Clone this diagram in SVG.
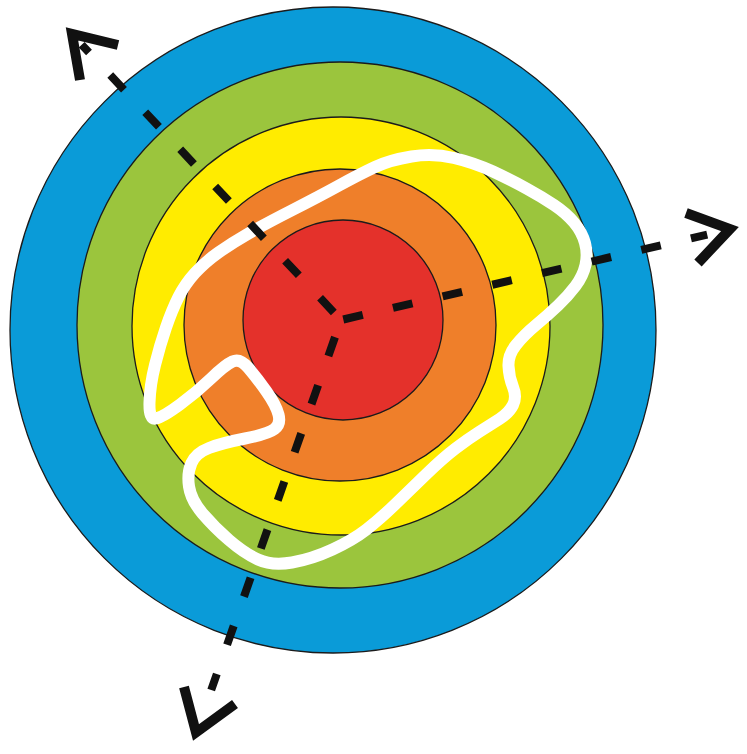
<svg xmlns="http://www.w3.org/2000/svg" width="747" height="754" viewBox="0 0 747 754">
<style>
.ring{stroke:#1b1b1b;stroke-width:1.3}
.ray{fill:none;stroke:#111;stroke-width:8;stroke-dasharray:20 31;stroke-linecap:butt}
.head{fill:none;stroke:#111;stroke-width:10;stroke-linejoin:miter;stroke-miterlimit:10;stroke-linecap:butt}
.outline{fill:none;stroke:#fff;stroke-width:12;stroke-linejoin:round}
</style>
<rect width="747" height="754" fill="#fff"/>
<g id="rings">
<circle id="ring-blue" class="ring" cx="333" cy="330" r="323" fill="#0a9bd8"/>
<circle id="ring-green" class="ring" cx="340" cy="325" r="263" fill="#9bc53d"/>
<circle id="ring-yellow" class="ring" cx="341" cy="326" r="209" fill="#ffec00"/>
<circle id="ring-orange" class="ring" cx="340" cy="325" r="156" fill="#ef7f2a"/>
<circle id="ring-red" class="ring" cx="343" cy="320" r="100" fill="#e4312b"/>
</g>
<g id="white-outline">
<path class="outline" d="M156 418.5 Q149 420 149.5 402.5 Q150 385 155 365 Q160 345 166 327.5 Q172 310 178.5 297 Q185 284 195 273 Q205 262 218.5 252.5 Q232 243 248.5 233.5 Q265 224 291.5 210.5 Q318 197 339 185.5 Q360 174 375 167 Q390 160 411.5 156.5 Q433 153 454 158 Q475 163 493 171.5 Q511 180 526.5 188.5 Q542 197 554 205 Q566 213 574 222.5 Q582 232 585 243 Q588 254 585.5 265 Q583 276 575.5 286 Q568 296 558 305.5 Q548 315 536 325 Q524 335 516 345 Q508 355 508.5 366 Q509 377 513 387 Q517 397 513 405 Q509 413 499.5 419 Q490 425 479 432 Q468 439 455.5 448.5 Q443 458 426.5 474 Q410 490 395 504.5 Q380 519 366.5 529.5 Q353 540 332.5 549.5 Q312 559 292 562.5 Q272 566 258 559.5 Q244 553 229 540 Q214 527 202.5 513.5 Q191 500 189 486.5 Q187 473 191.5 463 Q196 453 209 448 Q222 443 245 438.5 Q268 434 274.5 429 Q281 424 278.5 414.5 Q276 405 266.5 391.5 Q257 378 248.5 368 Q240 358 232.5 361.5 Q225 365 211 378.5 Q197 392 180 404.5 Q163 417 156 418.5 Z"/>
</g>
<g id="connectors">
<path id="ray-upleft" class="ray" d="M333.8 312.4 L81.7 44.8"/>
<path id="ray-right" class="ray" d="M343.3 319.5 L707.2 234.6"/>
<path id="ray-down" class="ray" d="M335 337.1 L211.2 690"/>
<path id="head-upleft" class="head" d="M118 45 L72 34 L80 80"/>
<path id="head-right" class="head" d="M686 213 L730 229 L698 263"/>
<path id="head-down" class="head" d="M184 687 L196 732.5 L235 704"/>
</g>
</svg>
